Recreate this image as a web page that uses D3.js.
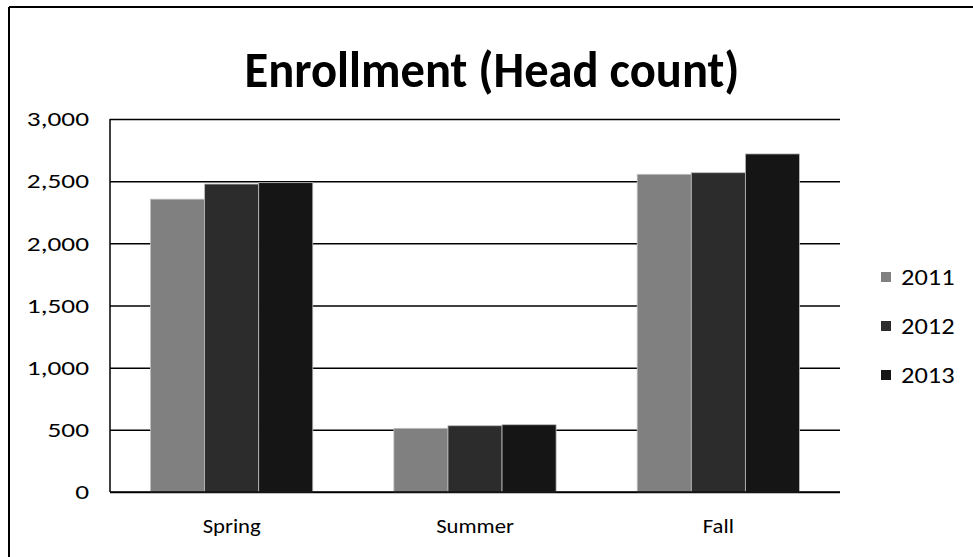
<!DOCTYPE html>
<html>
<head>
<meta charset="utf-8">
<script src="https://cdn.jsdelivr.net/npm/d3@7"></script>
<style>
  body { margin: 0; background: #fff; }
  svg { display: block; }
  svg text { font-family: Carlito, "Open Sans", "Liberation Sans", sans-serif; }
</style>
</head>
<body>
<div id="chart"></div>
<script>
const terms = ['Spring', 'Summer', 'Fall'];
const years = ['2011', '2012', '2013'];
const values2011 = [2355, 512, 2555];
const values2012 = [2477, 533, 2568];
const values2013 = [2488, 541, 2719];
const yTicks = [0, 500, 1000, 1500, 2000, 2500, 3000];

const series = { '2011': values2011, '2012': values2012, '2013': values2013 };
const colors = { '2011': '#808080', '2012': '#2c2c2c', '2013': '#151515' };

const W = 973, H = 557;
const margin = { top: 119, right: 133, bottom: 65, left: 110 };
const innerW = W - margin.left - margin.right;
const innerH = H - margin.top - margin.bottom;

// the scan is a bit wider than the font, stretch labels a little
function stretch(sel, k) {
	sel.each(function() {
		const w = this.getComputedTextLength();
		d3.select(this).attr('textLength', w * k).attr('lengthAdjust', 'spacingAndGlyphs');
	});
}

const svg = d3.select('#chart').append('svg')
	.attr('width', W)
	.attr('height', H);

// outer frame (only top and left visible in the scan)
svg.append('line').attr('x1', 9).attr('x2', W).attr('y1', 7).attr('y2', 7)
	.attr('stroke', '#000').attr('stroke-width', 2);
svg.append('line').attr('x1', 9).attr('x2', 9).attr('y1', 7).attr('y2', H)
	.attr('stroke', '#000').attr('stroke-width', 2);

svg.append('text')
	.attr('x', 492).attr('y', 87)
	.attr('text-anchor', 'middle')
	.attr('textLength', 495)
	.attr('lengthAdjust', 'spacingAndGlyphs')
	.style('font-size', '50px')
	.style('font-weight', 'bold')
	.text('Enrollment (Head count)');

const g = svg.append('g').attr('transform', `translate(${margin.left},${margin.top})`);

const x0 = d3.scaleBand().domain(terms).range([0, innerW]);
const x1 = d3.scaleBand().domain(years).range([0, x0.bandwidth()]).paddingOuter(0.75);
const y = d3.scaleLinear().domain([0, 3000]).range([innerH, 0]);

// gridlines
g.append('g')
	.attr('class', 'grid')
	.call(d3.axisLeft(y).tickValues(yTicks).tickSize(-innerW).tickFormat(''))
	.call(s => s.select('.domain').remove())
	.selectAll('line')
	.attr('stroke', '#000')
	.attr('stroke-width', 1.5);

// bars
const groups = g.selectAll('.term').data(terms).enter().append('g')
	.attr('class', 'term')
	.attr('transform', d => `translate(${x0(d)},0)`);

groups.selectAll('rect')
	.data((t, i) => years.map(yr => ({ year: yr, value: series[yr][i] })))
	.enter().append('rect')
	.attr('x', d => x1(d.year))
	.attr('y', d => y(d.value))
	.attr('width', x1.bandwidth())
	.attr('height', d => innerH - y(d.value))
	.attr('fill', d => colors[d.year])
	.attr('stroke', '#bdbdbd')
	.attr('stroke-width', 0.8);

// axes
g.append('line').attr('x1', 0).attr('x2', 0).attr('y1', 0).attr('y2', innerH)
	.attr('stroke', '#000').attr('stroke-width', 1.5);
g.append('line').attr('x1', 0).attr('x2', innerW).attr('y1', innerH).attr('y2', innerH)
	.attr('stroke', '#000').attr('stroke-width', 1.5);

const yAxis = g.append('g')
	.call(d3.axisLeft(y).tickValues(yTicks).tickSize(0).tickPadding(21).tickFormat(d3.format(',')));
yAxis.attr('font-family', null).attr('font-size', null);
yAxis.select('.domain').remove();
yAxis.selectAll('text').style('font-size', '21px').attr('fill', '#000').call(stretch, 1.3);

const xAxis = g.append('g')
	.attr('transform', `translate(0,${innerH})`)
	.call(d3.axisBottom(x0).tickSize(0).tickPadding(26));
xAxis.attr('font-family', null).attr('font-size', null);
xAxis.select('.domain').remove();
xAxis.selectAll('text').style('font-size', '21px').attr('fill', '#000').call(stretch, 1.08);

// legend
const legend = svg.append('g').attr('transform', 'translate(881,0)');
const ly = d3.scalePoint().domain(years).range([277, 375]);
years.forEach(yr => {
	legend.append('rect')
		.attr('x', 0).attr('y', ly(yr) - 5)
		.attr('width', 10).attr('height', 10)
		.attr('fill', colors[yr]);
	legend.append('text')
		.attr('x', 20).attr('y', ly(yr))
		.attr('dy', '0.35em')
		.style('font-size', '22px')
		.text(yr)
		.call(stretch, 1.2);
});
</script>
</body>
</html>
